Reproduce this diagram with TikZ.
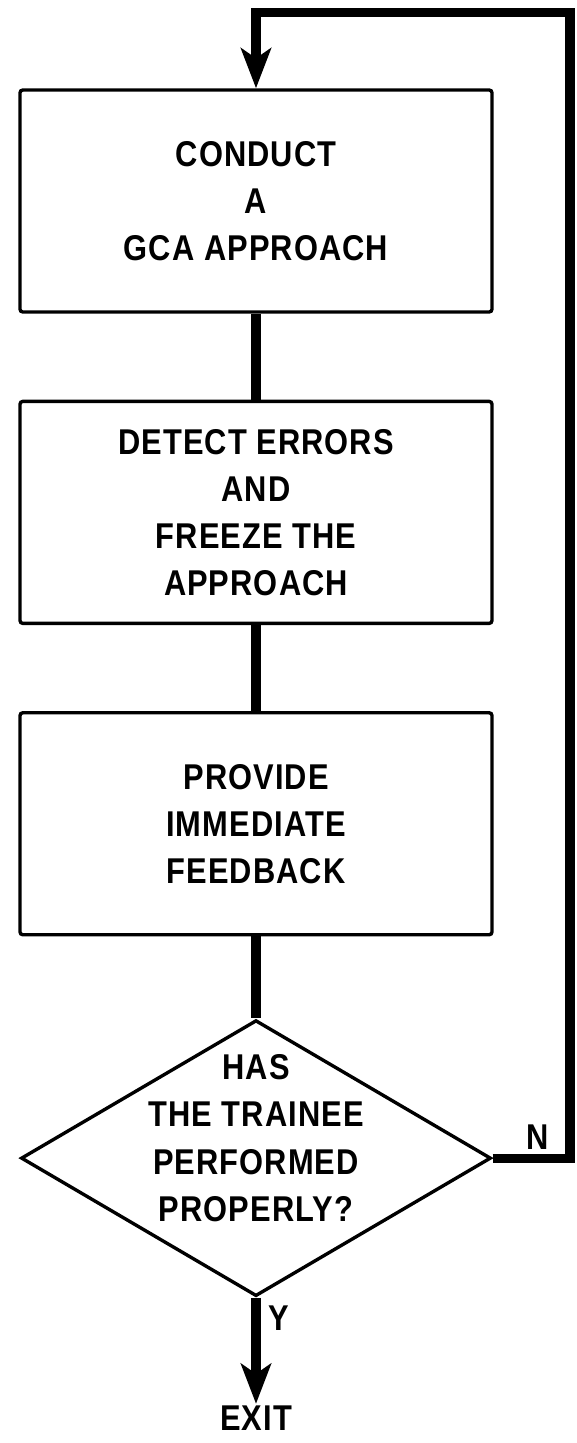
\documentclass[tikz,border=0pt]{standalone}
\usepackage{fontspec}
\newfontfamily\flowfont[FakeStretch=0.86,LetterSpace=3]{Liberation Sans}
\usetikzlibrary{positioning,shapes.geometric,arrows.meta}
\tikzstyle{flowtext} = [
font=\flowfont\bfseries\fontsize{25.5}{33.5}\selectfont,
align=center
]
\tikzstyle{task} = [
rectangle,
rounded corners=2pt,
minimum width=11.8cm,
minimum height=5.55cm,
line width=2.4pt,
flowtext,
draw=black
]
\tikzstyle{decision} = [diamond,
minimum width=11.75cm,
minimum height=6.9cm,
inner sep=0pt,
line width=2.4pt,
draw=black]
\tikzstyle{flowline} = [line width=6.5pt]
\tikzstyle{flowarrow} = [-{Stealth[length=1cm,width=0.75cm,inset=0.25cm]},line width=6.5pt]

\begin{document}
\begin{tikzpicture}[node distance=2.15cm]
      \useasboundingbox (0,0) rectangle (14.4,-36.075);
      \node (conduct) [task] at (6.4,-5.025) {CONDUCT\\A\\GCA APPROACH};
      \node (detect) [task, below=of conduct] {DETECT ERRORS\\AND\\FREEZE THE\\APPROACH};
      \node (feedback) [task, below=of detect] {PROVIDE\\IMMEDIATE\\FEEDBACK};
      \node (check) [decision, below=2.05cm of feedback,
        label={[flowtext, yshift=0.5cm]center:HAS\\THE TRAINEE\\PERFORMED\\PROPERLY?}] {};
      \node (exit) [flowtext, inner sep=1pt, below=2.65cm of check] {EXIT};
      \node (yes) [flowtext, inner sep=0pt, below right=0.2cm and 0.3cm of check.south] {Y};
      \node (no) [flowtext, inner sep=0pt, above right=0.2cm and 0.85cm of check.east] {N};
      \coordinate (loop) at (14.25,-0.31);
      \draw [flowline] (conduct) -- (detect);
      \draw [flowline] (detect) -- (feedback);
      \draw [flowline] (feedback) -- (check);
      \draw [flowarrow] (check.south) -- (exit);
      % back to the start when not done properly
      \draw [flowarrow] (check.east) -| (loop) -| (conduct.north);
\end{tikzpicture}
\end{document}
